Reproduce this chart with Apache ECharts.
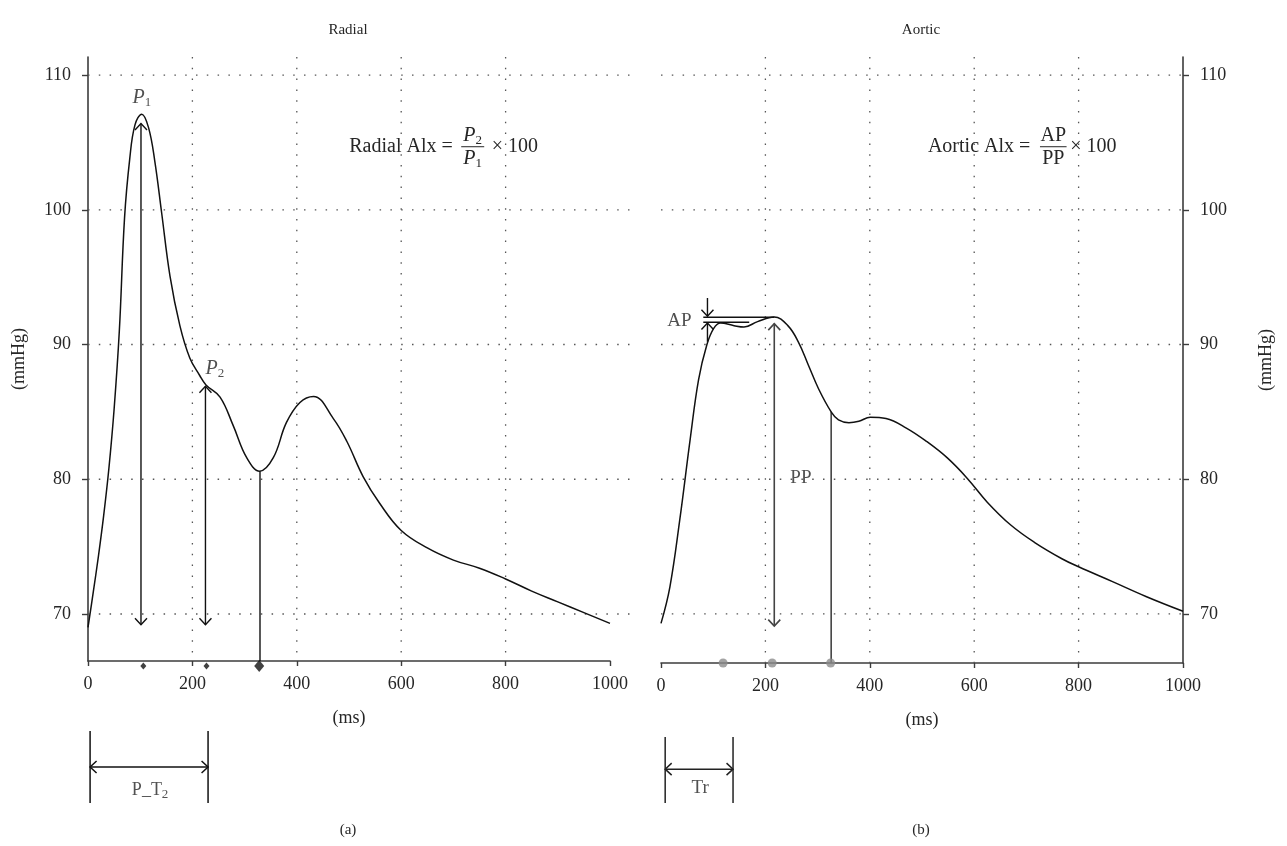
<!DOCTYPE html>
<html>
<head>
<meta charset="utf-8">
<script src="https://cdn.jsdelivr.net/npm/echarts@6/dist/echarts.min.js"></script>
<style>html,body{margin:0;padding:0;background:#fff}#c{width:1287px;height:846px}</style>
</head>
<body>
<div id="c"></div>
<script>
// ---------------- data ----------------
const xTicks = [0, 200, 400, 600, 800, 1000];
const yTicks = [70, 80, 90, 100, 110];
const gridXLines = [200, 400, 600, 800];

const radialTime = [0, 10, 20, 30, 40, 50, 60, 70, 80, 90, 103, 116, 128, 141, 157, 176, 195, 214, 226, 253, 278, 304, 329, 355, 380, 406, 432, 470, 496, 527, 559, 600, 650, 700, 750, 800, 850, 900, 950, 1000];
const radialPressure = [69.0, 71.6, 74.3, 77.3, 80.8, 85.2, 91.0, 99.4, 103.8, 106.3, 107.1, 106.1, 103.6, 99.8, 95.1, 91.4, 89.0, 87.7, 87.0, 86.1, 84.0, 81.6, 80.6, 81.6, 84.2, 85.7, 86.15, 84.5, 82.8, 80.2, 78.2, 76.2, 74.9, 74.0, 73.4, 72.6, 71.7, 70.9, 70.1, 69.3];

const aorticTime = [0, 17, 36, 56, 72, 88, 101, 114, 140, 159, 185, 217, 243, 263, 282, 302, 326, 340, 360, 379, 401, 431, 470, 509, 548, 586, 625, 670, 716, 768, 800, 865, 929, 1000];
const aorticPressure = [69.3, 72.0, 77.0, 83.0, 87.4, 90.0, 91.2, 91.6, 91.4, 91.3, 91.7, 92.05, 91.4, 90.2, 88.5, 86.7, 85.0, 84.4, 84.2, 84.3, 84.6, 84.5, 83.8, 82.8, 81.6, 80.1, 78.3, 76.6, 75.3, 74.1, 73.5, 72.4, 71.3, 70.2];

// annotation arrows: [t1, p1, t2, p2, headAtStart, headAtEnd]
const radialArrows = [[101.5, 106.4, 101.5, 69.2, 1, 1], [225, 86.9, 225, 69.2, 1, 1]];
const radialStemTime = [329.5];
const radialStemPressure = [80.6];
const radialMarkerTime = [106, 227, 328];
const radialLabelPos = [[103.4, 108.3], [243, 88.2]];
const radialLabelText = ['{it|P}{sub|1}', '{it|P}{sub|2}'];

const aorticArrows = [[89, 93.45, 89, 92.1, 0, 1], [89, 90.2, 89, 91.6, 0, 1], [81, 92.02, 217, 92.02, 0, 0], [81, 91.65, 169, 91.65, 0, 0]];
const aorticPPArrow = [[217, 91.55, 217, 69.1, 1, 1]];
const aorticStemTime = [326];
const aorticStemPressure = [85.0];
const aorticMarkerTime = [119, 213, 325];
const aorticLabelPos = [[35.4, 91.75], [268, 80.1]];
const aorticLabelText = ['AP', 'PP'];

const radialFormula = {prefix: 'Radial Alx =', num: '{it|P}{sub|2}', den: '{it|P}{sub|1}', suffix: '× 100'};
const aorticFormula = {prefix: 'Aortic Alx =', num: 'AP', den: 'PP', suffix: '× 100'};

const ptBracket = [[4, 0, 4, 1, 0, 0], [230, 0, 230, 1, 0, 0], [4, 0.5, 230, 0.5, 1, 1]];
const trBracket = [[8, 0, 8, 0.917, 0, 0], [138, 0, 138, 0.917, 0, 0], [8, 0.47, 138, 0.47, 1, 1]];
const ptLabel = [[119, 0.18]];
const trLabel = [[75, 0.21]];

// ---------------- style ----------------
const FONT = '"Liberation Serif", "DejaVu Serif", serif';
const INK = '#262626';
const AX = '#3c3c3c';
const yMinL = 66.51, yMaxL = 111.34;
const yMinR = 66.36, yMaxR = 111.34;

function zip(a, b) { return a.map((v, i) => [v, b[i]]); }

function segRender(color, width, dash) {
  return function (params, api) {
    const a = api.coord([api.value(0), api.value(1)]);
    const b = api.coord([api.value(2), api.value(3)]);
    const hs = api.value(4), he = api.value(5);
    const children = [{type: 'line', shape: {x1: a[0], y1: a[1], x2: b[0], y2: b[1]},
      style: {stroke: color, lineWidth: width, fill: null, lineDash: dash || null}}];
    const dx = b[0] - a[0], dy = b[1] - a[1];
    const len = Math.hypot(dx, dy) || 1;
    const ux = dx / len, uy = dy / len;
    const L = 6.5, W = 6;
    function head(p, vx, vy) {
      children.push({type: 'polyline', shape: {points: [
        [p[0] - vx * L - vy * W, p[1] - vy * L + vx * W],
        [p[0], p[1]],
        [p[0] - vx * L + vy * W, p[1] - vy * L - vx * W]]},
        style: {stroke: color, lineWidth: width, fill: null}});
    }
    if (hs) head(a, -ux, -uy);
    if (he) head(b, ux, uy);
    return {type: 'group', children};
  };
}

function segSeries(xi, data, color, width, dash, z) {
  return {type: 'custom', xAxisIndex: xi, yAxisIndex: xi, data, clip: false, silent: true, z: z || 3,
    renderItem: segRender(color, width, dash), encode: {x: [0, 2], y: [1, 3]}};
}

const richStyle = {
  it: {fontStyle: 'italic', fontSize: 20, fontFamily: FONT, color: INK, fill: INK, lineHeight: 22},
  sub: {fontSize: 13, fontFamily: FONT, color: INK, fill: INK, lineHeight: 12, verticalAlign: 'bottom'},
  n: {fontSize: 18, fontFamily: FONT, color: INK, fill: INK, lineHeight: 22}
};

function labelSeries(xi, pos, texts, size) {
  return {type: 'scatter', xAxisIndex: xi, yAxisIndex: xi, silent: true, clip: false, z: 5,
    symbolSize: 1, itemStyle: {color: 'rgba(0,0,0,0)'},
    data: pos.map((p, i) => ({value: p, text: texts[i]})),
    label: {show: true, position: 'inside', formatter: p => p.data.text,
      color: INK, fontFamily: FONT, fontSize: size || 19, rich: richStyle}};
}

function formulaSeries(xi, anchor, f, barHalf, preX, sufX) {
  const font = '20px ' + FONT;
  return {type: 'custom', xAxisIndex: xi, yAxisIndex: xi, data: [anchor], clip: false, silent: true, z: 5,
    encode: {x: 0, y: 1},
    renderItem: function (params, api) {
      const c = api.coord([api.value(0), api.value(1)]);
      const t = (text, x, y, align) => ({type: 'text', style: {text, x, y, align, textAlign: align,
        verticalAlign: 'middle', textVerticalAlign: 'middle', font, fill: INK, rich: richStyle}});
      return {type: 'group', x: c[0], y: c[1], children: [
        t(f.prefix, preX, 0, 'right'),
        t(f.num, 0, -11, 'center'),
        {type: 'line', shape: {x1: -barHalf, y1: 0, x2: barHalf, y2: 0}, style: {stroke: INK, lineWidth: 1}},
        t(f.den, 0, 12, 'center'),
        t(f.suffix, sufX, 0, 'left')
      ]};
    }};
}

const axisText = {color: INK, fontFamily: FONT, fontSize: 18};

function xAx(gi, hidden) {
  if (hidden) return {type: 'value', gridIndex: gi, min: 0, max: 1000, show: false};
  return {type: 'value', gridIndex: gi, min: 0, max: 1000, interval: 200,
    name: '(ms)', nameLocation: 'middle', nameGap: 48, nameTextStyle: axisText,
    axisLine: {show: true, onZero: false, lineStyle: {color: AX, width: 1.6}},
    axisTick: {show: true, length: 5, customValues: xTicks, lineStyle: {color: AX, width: 1.4}},
    axisLabel: Object.assign({margin: 14, customValues: xTicks, formatter: v => String(v)}, axisText),
    splitLine: {show: false}};
}
function yAx(gi, min, max, pos, gap) {
  return {type: 'value', gridIndex: gi, min, max, position: pos,
    name: '(mmHg)', nameLocation: 'middle', nameRotate: 90, nameGap: gap, nameTextStyle: axisText,
    axisLine: {show: true, onZero: false, lineStyle: {color: AX, width: 1.6}},
    axisTick: {show: true, length: 6, customValues: yTicks, lineStyle: {color: AX, width: 1.4}},
    axisLabel: Object.assign({margin: 17, customValues: yTicks, formatter: v => String(v)}, axisText),
    splitLine: {show: false}};
}

const radialGrid = yTicks.map(v => [0, v, 1050, v, 0, 0]).concat(gridXLines.map(v => [v, yMaxL, v, yMinL, 0, 0]));
const aorticGrid = yTicks.map(v => [0, v, 1000, v, 0, 0]).concat(gridXLines.map(v => [v, yMaxR, v, yMinR, 0, 0]));
const DOT = [1.5, 9.3];

const chart = echarts.init(document.getElementById('c'), null, {renderer: 'canvas'});
chart.setOption({
  animation: false,
  backgroundColor: '#fff',
  grid: [
    {left: 88, top: 57, width: 522, height: 604},
    {left: 661, top: 57, width: 522, height: 606},
    {left: 88, top: 731, width: 522, height: 72},
    {left: 661, top: 731, width: 522, height: 72}
  ],
  xAxis: [xAx(0), xAx(1), xAx(2, true), xAx(3, true)],
  yAxis: [yAx(0, yMinL, yMaxL, 'left', 60), yAx(1, yMinR, yMaxR, 'right', 74),
    {type: 'value', gridIndex: 2, min: 0, max: 1, show: false},
    {type: 'value', gridIndex: 3, min: 0, max: 1, show: false}],
  graphic: [
    {type: 'text', x: 348, y: 30, style: {text: 'Radial', align: 'center', textAlign: 'center', verticalAlign: 'middle', textVerticalAlign: 'middle', font: '15px ' + FONT, fill: INK}},
    {type: 'text', x: 921, y: 30, style: {text: 'Aortic', align: 'center', textAlign: 'center', verticalAlign: 'middle', textVerticalAlign: 'middle', font: '15px ' + FONT, fill: INK}},
    {type: 'text', x: 348, y: 830, style: {text: '(a)', align: 'center', textAlign: 'center', verticalAlign: 'middle', textVerticalAlign: 'middle', font: '15px ' + FONT, fill: INK}},
    {type: 'text', x: 921, y: 830, style: {text: '(b)', align: 'center', textAlign: 'center', verticalAlign: 'middle', textVerticalAlign: 'middle', font: '15px ' + FONT, fill: INK}}
  ],
  series: [
    segSeries(0, radialGrid, '#555', 1.3, DOT, 1),
    segSeries(1, aorticGrid, '#555', 1.3, DOT, 1),
    {type: 'line', xAxisIndex: 0, yAxisIndex: 0, data: zip(radialTime, radialPressure), smooth: 0.4,
      symbol: 'none', lineStyle: {color: '#111', width: 1.5}, z: 4, silent: true},
    {type: 'line', xAxisIndex: 1, yAxisIndex: 1, data: zip(aorticTime, aorticPressure), smooth: 0.4,
      symbol: 'none', lineStyle: {color: '#111', width: 1.5}, z: 4, silent: true},
    segSeries(0, radialArrows.concat(radialStemTime.map((t, i) => [t, radialStemPressure[i], t, yMinL, 0, 0])), '#111', 1.4),
    segSeries(1, aorticArrows, '#111', 1.4),
    segSeries(1, aorticPPArrow.concat(aorticStemTime.map((t, i) => [t, aorticStemPressure[i], t, yMinR, 0, 0])), '#444', 1.6),
    {type: 'scatter', xAxisIndex: 0, yAxisIndex: 0, clip: false, silent: true, z: 6,
      data: radialMarkerTime.map(t => [t, yMinL]), symbol: 'diamond',
      symbolSize: (v, p) => p.dataIndex === 2 ? [10, 12] : [6, 7], symbolOffset: [0, 5],
      itemStyle: {color: '#111'}},
    {type: 'scatter', xAxisIndex: 1, yAxisIndex: 1, clip: false, silent: true, z: 6,
      data: aorticMarkerTime.map(t => [t, yMinR]), symbol: 'circle', symbolSize: 9,
      itemStyle: {color: '#8c8c8c'}},
    labelSeries(0, radialLabelPos, radialLabelText),
    labelSeries(1, aorticLabelPos, aorticLabelText),
    formulaSeries(0, [737, 104.68], radialFormula, 11.5, -20, 19),
    formulaSeries(1, [751.5, 104.68], aorticFormula, 13.3, -23, 17),
    segSeries(2, ptBracket, '#111', 1.5),
    segSeries(3, trBracket, '#222', 1.5),
    labelSeries(2, ptLabel, ['{n|P_T}{sub|2}']),
    labelSeries(3, trLabel, ['Tr'])
  ]
});
</script>
</body>
</html>
